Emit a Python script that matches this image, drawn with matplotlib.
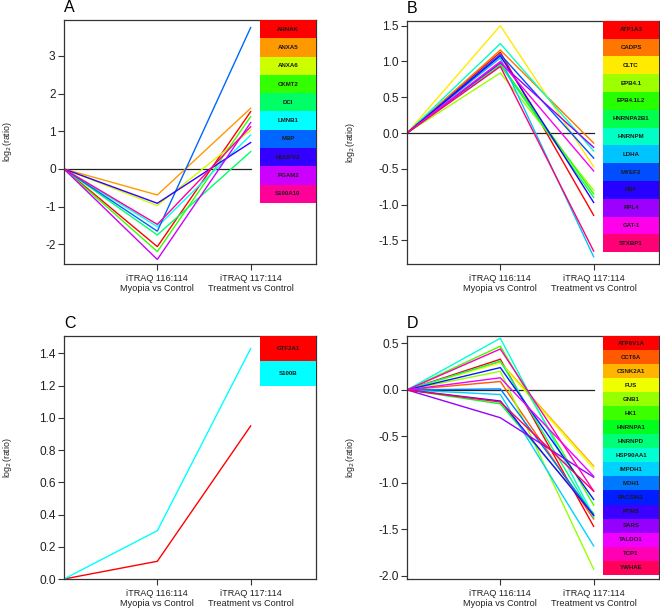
import numpy as np
import matplotlib
matplotlib.use("Agg")
import matplotlib.pyplot as plt
from matplotlib.colors import hsv_to_rgb
from matplotlib.patches import Rectangle

# ---------------- data ----------------
x_labels = ["iTRAQ 116:114\nMyopia vs Control", "iTRAQ 117:114\nTreatment vs Control"]

genes_A = ["AHNAK", "ANXA5", "ANXA6", "CKMT2", "DCI", "LMNB1", "MBP", "NDUFV2", "PGAM2", "S100A10"]
myopia_A = [-2.06, -0.69, -0.97, -2.19, -1.75, -1.53, -1.65, -0.91, -2.40, -1.47]
treat_A = [1.52, 1.61, 1.03, 1.39, 0.46, 0.90, 3.75, 0.70, 1.23, 1.12]

genes_B = ["ATP1A3", "CADPS", "CLTC", "EPB4.1", "EPB4.1L2", "HNRNPA2B1", "HNRNPM",
           "LDHA", "MYEF2", "NSF", "RPL4", "GAT-1", "STXBP1"]
myopia_B = [1.13, 1.16, 1.50, 0.84, 0.97, 0.95, 1.25, 1.05, 1.10, 1.08, 0.98, 1.00, 0.93]
treat_B = [-1.15, -0.14, -0.47, -0.80, -0.85, -0.90, -0.25, -1.73, -0.35, -0.97, -0.20, -0.53, -1.65]

genes_C = ["GTF2A1", "S100B"]
myopia_C = [0.11, 0.30]
treat_C = [0.95, 1.43]

genes_D = ["ATP6V1A", "CCT6A", "CSNK2A1", "FUS", "GNB1", "HK1", "HNRNPA1", "HNRNPD",
           "HSP90AA1", "IMPDH1", "MDH1", "PACSIN1", "PTMS", "SARS", "TALDO1", "TCP1", "YWHAE"]
myopia_D = [0.33, 0.09, 0.30, 0.29, 0.20, 0.47, -0.15, 0.31, 0.556, -0.05, 0.01, 0.24,
            -0.12, -0.30, 0.13, 0.44, -0.13]
treat_D = [-1.47, -1.39, -0.82, -0.85, -1.93, -1.24, -1.33, -1.37, -1.36, -1.68, -1.35,
           -1.18, -1.35, -0.94, -0.93, -1.09, -1.09]

yticks_A = [-2, -1, 0, 1, 2, 3]
yticks_B = [-1.5, -1.0, -0.5, 0.0, 0.5, 1.0, 1.5]
yticks_C = [0.0, 0.2, 0.4, 0.6, 0.8, 1.0, 1.2, 1.4]
yticks_D = [-2.0, -1.5, -1.0, -0.5, 0.0, 0.5]

# ---------------- plotting ----------------
W, H = 660, 612
fig = plt.figure(figsize=(W / 100, H / 100), dpi=100)
plt.rcParams['font.family'] = ['Liberation Sans', 'DejaVu Sans']


def rainbow(n):
    return [hsv_to_rgb((i / n, 1.0, 1.0)) for i in range(n)]


def panel(rect_px, letter, genes, m, t, yticks, ylim, fmt, item_frac, zero_line=True):
    l, top, r, bot = rect_px
    ax = fig.add_axes([l / W, 1 - bot / H, (r - l) / W, (bot - top) / H])
    cols = rainbow(len(genes))
    xs = [0, 1, 2]
    for g, a, b, c in zip(genes, m, t, cols):
        ax.plot(xs, [0, a, b], color=c, lw=1.0, solid_joinstyle='miter')
    if zero_line:
        ax.plot([0, 2], [0, 0], color='#222222', lw=0.9, zorder=1)
    ax.set_xlim(0, 2.70)
    ax.set_ylim(*ylim)
    ax.set_xticks([1, 2])
    ax.set_xticklabels(x_labels, fontsize=6.6, color='#222222', linespacing=1.15)
    ax.set_yticks(yticks)
    ax.set_yticklabels([fmt.format(v) for v in yticks], fontsize=8.6, color='#222222')
    ax.tick_params(axis='both', direction='out', length=4, width=0.8, color='#333333')
    ax.tick_params(axis='x', pad=3)
    ax.tick_params(axis='y', pad=2)
    for s in ax.spines.values():
        s.set_linewidth(0.9)
        s.set_color('#333333')
    ax.set_ylabel(r"log$_2$(ratio)", fontsize=6.4, color='#222222')
    ax.yaxis.set_label_coords(-0.197, 0.5)
    ax.text(0.0, 1.02, letter, transform=ax.transAxes, fontsize=11.5, va='bottom', ha='left')
    # legend block
    x0 = 2.10 / 2.70
    for i, (g, c) in enumerate(zip(genes, cols)):
        y1 = 1 - i * item_frac
        ax.add_patch(Rectangle((x0, y1 - item_frac), 1 - x0, item_frac, transform=ax.transAxes,
                               facecolor=c, edgecolor='none', zorder=3, clip_on=False))
        ax.text((x0 + 1) / 2, y1 - item_frac / 2, g, transform=ax.transAxes, fontsize=4.4,
                fontweight='bold', ha='center', va='center', color='#1a1a1a', zorder=4)
    return ax


panel((64, 20, 316, 264), "A", genes_A, myopia_A, treat_A, yticks_A, (-2.52, 3.95), "{:g}", 0.075)
panel((407, 20.7, 659, 264), "B", genes_B, myopia_B, treat_B, yticks_B, (-1.83, 1.57), "{:.1f}", 0.0732)
panel((64, 336, 316, 579), "C", genes_C, myopia_C, treat_C, yticks_C, (0.0, 1.508), "{:.1f}", 0.103,
      zero_line=False)
panel((407, 336, 659, 579), "D", genes_D, myopia_D, treat_D, yticks_D, (-2.036, 0.58), "{:.1f}", 0.0578)

fig.savefig("out.png", dpi=100)
